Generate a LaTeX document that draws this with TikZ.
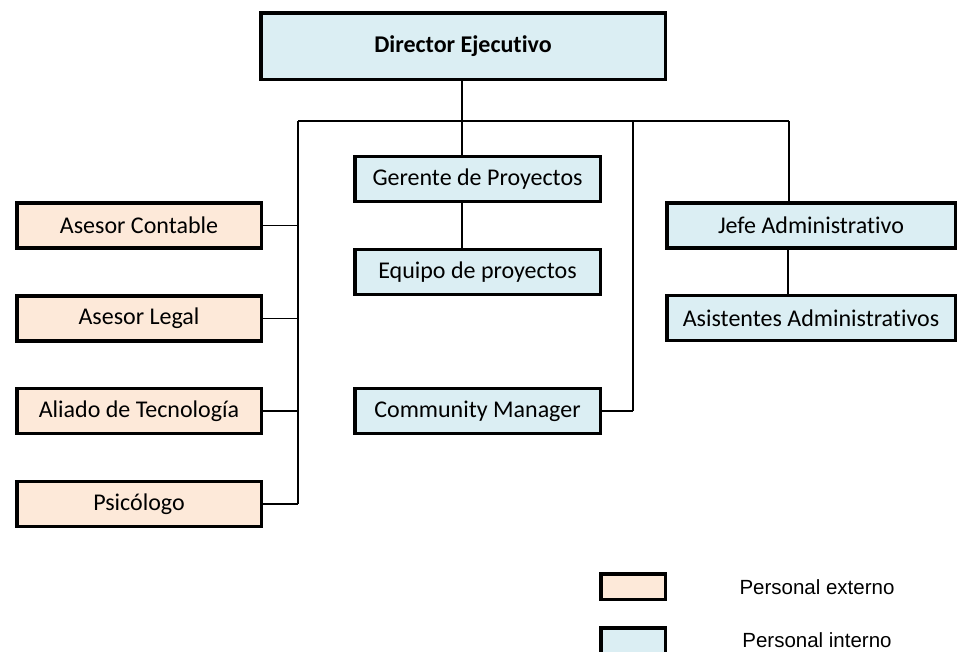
\documentclass[tikz,border=0pt]{standalone}
\usepackage{fontspec}
\setmainfont[Ligatures={NoCommon}]{Carlito}
\newfontfamily\arialfont{Liberation Sans}
\definecolor{intblue}{HTML}{DBEEF3}
\definecolor{extpeach}{HTML}{FDE9D9}
\begin{document}
\begin{tikzpicture}[x=1pt,y=-1pt,
  box/.style={draw=black, line width=3.5pt, inner sep=0pt, minimum height=45pt,
    font=\fontsize{24}{28}\selectfont},
  intbox/.style={box, fill=intblue},
  extbox/.style={box, fill=extpeach},
  link/.style={draw=black, line width=1.2pt},
  legendtext/.style={font=\arialfont\fontsize{20.5}{24}\selectfont}]
\useasboundingbox (0,0) rectangle (959,651);

% nodes
\node[intbox, minimum width=404.5pt, minimum height=66.5pt, font=\fontsize{24}{28}\selectfont\bfseries] (dir) at (463,46) {Director Ejecutivo};
\node[intbox, minimum width=245.5pt] (ger) at (477.5,179) {Gerente de Proyectos};
\node[intbox, minimum width=245.5pt] (eq) at (477.5,272) {Equipo de proyectos};
\node[intbox, minimum width=245.5pt] (cm) at (477.5,411) {Community Manager};
\node[extbox, minimum width=244.5pt] (cont) at (139,225.5) {Asesor Contable};
\node[extbox, minimum width=244.5pt] (legal) at (139,318.5) {Asesor Legal};
\node[extbox, minimum width=244.5pt] (tec) at (139,411) {Aliado de Tecnología};
\node[extbox, minimum width=244.5pt] (psi) at (139,504) {Psicólogo};
\node[intbox, minimum width=288.5pt] (jefe) at (811,225.5) {Jefe Administrativo};
\node[intbox, minimum width=288.5pt] (asis) at (811,318) {Asistentes Administrativos};

% legend
\node[extbox, minimum width=64.5pt, minimum height=25.5pt] (legext) at (633,586.5) {};
\node[intbox, minimum width=64.5pt, minimum height=25.5pt] (legint) at (633,640.5) {};
\node[legendtext] (txtext) at (817,587) {Personal externo};
\node[legendtext] (txtint) at (817,640.5) {Personal interno};

% bus coordinates
\coordinate (busL) at (298,121);
\coordinate (busR) at (789,121);
\coordinate (busG) at (462,121);
\coordinate (busC) at (633,121);

% connectors
\draw[link] (dir.south -| busG) -- (busG);
\draw[link] (busL) -- (busR);
\draw[link] (busG) -- (ger.north -| busG);
\draw[link] (ger.south -| busG) -- (eq.north -| busG);
\draw[link] (busL) -- (busL |- psi.east);
\draw[link] (cont.east) -- (cont.east -| busL);
\draw[link] (legal.east) -- (legal.east -| busL);
\draw[link] (tec.east) -- (tec.east -| busL);
\draw[link] (psi.east) -- (psi.east -| busL);
\draw[link] (busC) -- (busC |- cm.east);
\draw[link] (cm.east) -- (cm.east -| busC);
\draw[link] (busR) -- (jefe.north -| busR);
\draw[link] ([xshift=-1pt]jefe.south -| busR) -- ([xshift=-1pt]asis.north -| busR);
\end{tikzpicture}
\end{document}
